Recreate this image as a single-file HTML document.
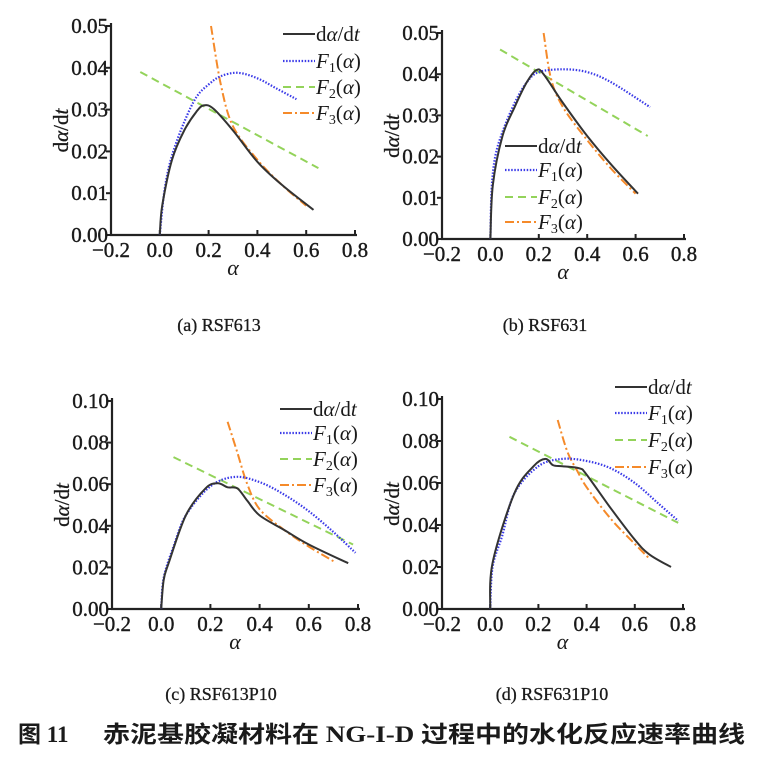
<!DOCTYPE html>
<html><head><meta charset="utf-8"><style>
body{margin:0;background:#fff;width:764px;height:768px;overflow:hidden}
svg text{font-family:"Liberation Serif","Noto Serif CJK SC",serif;fill:#1a1a1a}
</style></head><body>
<svg id="s" width="764" height="768" xmlns="http://www.w3.org/2000/svg"></svg>
<script>
const S=document.getElementById('s');let h='';
function sm(p){let d='M'+p[0][0].toFixed(1)+','+p[0][1].toFixed(1);
for(let i=0;i<p.length-1;i++){const a=p[Math.max(0,i-1)],b=p[i],c=p[i+1],e=p[Math.min(p.length-1,i+2)];
const c1=[b[0]+(c[0]-a[0])/6,b[1]+(c[1]-a[1])/6],c2=[c[0]-(e[0]-b[0])/6,c[1]-(e[1]-b[1])/6];
d+=` C${c1[0].toFixed(1)},${c1[1].toFixed(1)} ${c2[0].toFixed(1)},${c2[1].toFixed(1)} ${c[0].toFixed(1)},${c[1].toFixed(1)}`;}return d;}
const ST={k:'stroke="#333" stroke-width="2"',b:'stroke="#3a3ae8" stroke-width="2.2" stroke-dasharray="1.5 1.6"',g:'stroke="#93d35a" stroke-width="2" stroke-dasharray="8 5"',o:'stroke="#f58a2a" stroke-width="2" stroke-dasharray="9 3 2 3"'};
function panel(P){const X=v=>P.x0+(v+0.2)*(P.x1-P.x0),Y=v=>P.yb-(v/P.ym)*(P.yb-P.yt);
h+=`<path d="M${P.x0},${P.yt-3} V${P.yb} H${P.x1+2} " fill="none" stroke="#222" stroke-width="2.2"/>`;
for(let i=0;i<=5;i++){const v=P.ym*i/5,y=Y(v);h+=`<line x1="${P.x0-5}" x2="${P.x0}" y1="${y}" y2="${y}" stroke="#222" stroke-width="2"/>`;
h+=`<text x="${P.x0-3}" y="${y+7}" font-size="21" text-anchor="end" stroke="#1a1a1a" stroke-width="0.4">${v.toFixed(2)}</text>`;}
for(let i=0;i<=5;i++){const v=-0.2+i*0.2,x=X(v);h+=`<line x1="${x}" x2="${x}" y1="${P.yb-5}" y2="${P.yb}" stroke="#222" stroke-width="2"/>`;
h+=`<text x="${x}" y="${P.yb+22}" font-size="21" text-anchor="middle" stroke="#1a1a1a" stroke-width="0.4">${v<0?'−0.2':v.toFixed(1)}</text>`;}
h+=`<text x="${(P.x0+P.x1)/2}" y="${P.yb+40}" font-size="22" font-style="italic" text-anchor="middle">α</text>`;
const cy=(P.yt+P.yb)/2;h+=`<text transform="translate(${P.x0-43},${cy}) rotate(-90)" font-size="21" text-anchor="middle" stroke="#1a1a1a" stroke-width="0.3">d<tspan font-style="italic">α</tspan>/d<tspan font-style="italic">t</tspan></text>`;
for(const [k,pts] of P.c){const q=pts.map(p=>[X(p[0]),Y(p[1])]);h+=`<path d="${k=='g'?'M'+q.map(p=>p.join(',')).join(' L'):sm(q)}" fill="none" ${ST[k]}/>`;}
const L=P.lg,labs=['d<tspan font-style="italic">α</tspan>/d<tspan font-style="italic">t</tspan>','<tspan font-style="italic">F</tspan><tspan font-size="14" dy="4">1</tspan><tspan dy="-4">(</tspan><tspan font-style="italic">α</tspan>)','<tspan font-style="italic">F</tspan><tspan font-size="14" dy="4">2</tspan><tspan dy="-4">(</tspan><tspan font-style="italic">α</tspan>)','<tspan font-style="italic">F</tspan><tspan font-size="14" dy="4">3</tspan><tspan dy="-4">(</tspan><tspan font-style="italic">α</tspan>)'];
['k','b','g','o'].forEach((k,i)=>{const y=L.y[i];h+=`<line x1="${L.x}" x2="${L.x+32}" y1="${y}" y2="${y}" ${ST[k]}/>`;h+=`<text x="${L.x+33}" y="${y+7}" font-size="21">${labs[i]}</text>`;});
h+=`<text x="${P.cx}" y="${P.cy}" font-size="18" text-anchor="middle" stroke="#1a1a1a" stroke-width="0.3">${P.cap}</text>`;}
panel({x0:111,x1:355,yt:26,yb:235,ym:0.05,lg:{x:283,y:[34,61,87,113]},cx:219,cy:331,cap:'(a) RSF613',c:[
['g',[[-0.08,0.039],[0.65,0.016]]],
['o',[[0.21,0.05],[0.25,0.036],[0.3,0.026],[0.4,0.018],[0.5,0.012],[0.6,0.007]]],
['b',[[0,0],[0.02,0.011],[0.05,0.019],[0.1,0.027],[0.15,0.033],[0.2,0.036],[0.25,0.038],[0.32,0.0388],[0.4,0.0375],[0.48,0.035],[0.56,0.0325]]],
['k',[[0,0],[0.01,0.007],[0.05,0.018],[0.1,0.025],[0.15,0.0295],[0.18,0.031],[0.22,0.0302],[0.3,0.025],[0.4,0.0175],[0.5,0.012],[0.63,0.006]]]]});
panel({x0:442,x1:684,yt:33,yb:239,ym:0.05,lg:{x:505,y:[146,170,197,222]},cx:545,cy:331,cap:'(b) RSF631',c:[
['g',[[0.04,0.046],[0.65,0.025]]],
['o',[[0.22,0.05],[0.25,0.039],[0.3,0.032],[0.4,0.024],[0.5,0.017],[0.6,0.011]]],
['b',[[0,0],[0.005,0.012],[0.02,0.02],[0.05,0.026],[0.1,0.033],[0.15,0.038],[0.2,0.0405],[0.3,0.0412],[0.4,0.0405],[0.5,0.038],[0.66,0.032]]],
['k',[[0,0],[0.01,0.013],[0.05,0.025],[0.1,0.032],[0.15,0.038],[0.19,0.041],[0.22,0.040],[0.3,0.033],[0.4,0.025],[0.5,0.018],[0.61,0.011]]]]});
panel({x0:112,x1:358,yt:401,yb:609,ym:0.10,lg:{x:280,y:[409,433,459,485]},cx:221,cy:700,cap:'(c) RSF613P10',c:[
['g',[[0.05,0.073],[0.78,0.031]]],
['o',[[0.27,0.09],[0.31,0.075],[0.35,0.060],[0.4,0.048],[0.5,0.038],[0.6,0.030],[0.7,0.023]]],
['b',[[0,0],[0.01,0.015],[0.05,0.03],[0.1,0.045],[0.2,0.059],[0.3,0.0635],[0.4,0.061],[0.5,0.055],[0.6,0.047],[0.7,0.037],[0.79,0.027]]],
['k',[[0,0],[0.01,0.014],[0.03,0.022],[0.1,0.045],[0.18,0.058],[0.23,0.0605],[0.27,0.0585],[0.31,0.058],[0.35,0.052],[0.4,0.045],[0.5,0.038],[0.6,0.031],[0.76,0.022]]]]});
panel({x0:442,x1:683,yt:399,yb:609,ym:0.10,lg:{x:615,y:[387,413,440,467]},cx:552,cy:700,cap:'(d) RSF631P10',c:[
['g',[[0.08,0.082],[0.78,0.041]]],
['o',[[0.28,0.09],[0.32,0.075],[0.36,0.066],[0.4,0.058],[0.5,0.043],[0.6,0.031],[0.66,0.024]]],
['b',[[0,0],[0.01,0.02],[0.05,0.035],[0.1,0.055],[0.2,0.068],[0.3,0.0715],[0.4,0.0705],[0.5,0.067],[0.6,0.060],[0.7,0.050],[0.78,0.042]]],
['k',[[0,0],[0.01,0.022],[0.1,0.055],[0.18,0.068],[0.23,0.0715],[0.26,0.0685],[0.3,0.068],[0.37,0.067],[0.4,0.064],[0.5,0.048],[0.6,0.033],[0.66,0.026],[0.75,0.020]]]]});
const cf="font-family:'Liberation Serif','Noto Sans CJK SC',sans-serif";
h+=`<text x="18" y="742" font-size="23" font-weight="bold" style="${cf}">图 11</text>`;
h+=`<text x="103" y="742" font-size="23" font-weight="bold" textLength="642" lengthAdjust="spacingAndGlyphs" style="${cf}">赤泥基胶凝材料在 NG-I-D 过程中的水化反应速率曲线</text>`;
S.innerHTML=h;
</script>
</body></html>
